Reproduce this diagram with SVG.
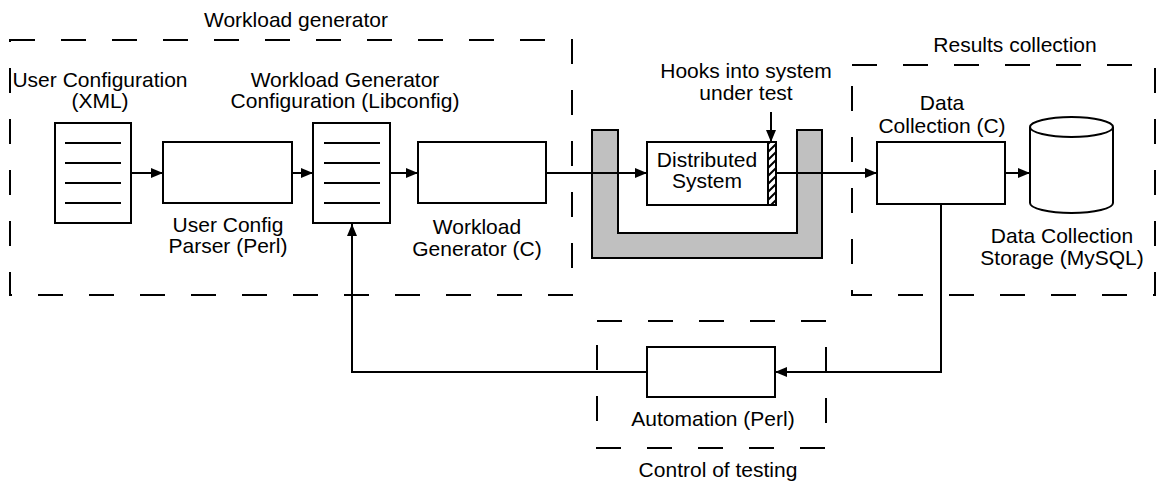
<svg xmlns="http://www.w3.org/2000/svg" width="1159" height="482" viewBox="0 0 1159 482">
  <style>
    .lbl { font-family: "Liberation Sans", Arial, sans-serif; font-size: 21px; fill: #000; text-anchor: middle; }
    .box { fill: #fff; stroke: #000; stroke-width: 2; }
    .rule { stroke: #000; stroke-width: 2; }
    .zone { fill: none; stroke: #000; stroke-width: 2; stroke-dasharray: 25 26; }
    .wire { fill: none; stroke: #000; stroke-width: 2; }
    .arrow { marker-end: url(#head); }
  </style>
  <defs>
    <marker id="head" markerUnits="userSpaceOnUse" markerWidth="13" markerHeight="11" refX="12" refY="5" orient="auto">
      <path d="M0,0 L12,5 L0,10 z" fill="#000"/>
    </marker>
    <pattern id="hatch" patternUnits="userSpaceOnUse" width="8" height="8">
      <path d="M-2,2 L2,-2 M0,8 L8,0 M6,10 L10,6" stroke="#000" stroke-width="2"/>
    </pattern>
  </defs>

  <rect width="1159" height="482" fill="#fff"/>

  <!-- dashed zones -->
  <g id="zones">
    <rect class="zone" x="10" y="40" width="562" height="255"/>
    <rect class="zone" x="852" y="65" width="303" height="230"/>
    <rect class="zone" x="597" y="321" width="229" height="127"/>
    <text class="lbl" x="296" y="27">Workload generator</text>
    <text class="lbl" x="1015" y="52">Results collection</text>
    <text class="lbl" x="718" y="477">Control of testing</text>
  </g>

  <!-- test harness around the system -->
  <g id="harness">
    <path d="M592,130 H618 V233 H797 V130 H822 V258 H592 Z" fill="#c0c0c0" stroke="#000" stroke-width="2"/>
  </g>

  <g id="user-config">
    <rect class="box" x="55" y="123" width="76" height="100"/>
    <path class="rule" d="M65,143 H121 M65,163 H121 M65,183 H121 M65,203 H121"/>
    <text class="lbl" x="100" y="87">User Configuration</text>
    <text class="lbl" x="100" y="108">(XML)</text>
  </g>

  <g id="config-parser">
    <rect class="box" x="163" y="142" width="129" height="61"/>
    <text class="lbl" x="228" y="232">User Config</text>
    <text class="lbl" x="228" y="253">Parser (Perl)</text>
  </g>

  <g id="generator-config">
    <rect class="box" x="313" y="123" width="77" height="100"/>
    <path class="rule" d="M324,143 H380 M324,163 H380 M324,183 H380 M324,203 H380"/>
    <text class="lbl" x="345" y="87">Workload Generator</text>
    <text class="lbl" x="345" y="108">Configuration (Libconfig)</text>
  </g>

  <g id="workload-generator">
    <rect class="box" x="418" y="142" width="128" height="61"/>
    <text class="lbl" x="477" y="234">Workload</text>
    <text class="lbl" x="477" y="256">Generator (C)</text>
  </g>

  <g id="distributed-system">
    <rect class="box" x="647" y="142" width="129" height="63"/>
    <rect x="768" y="142" width="8" height="63" fill="url(#hatch)" stroke="#000" stroke-width="2"/>
    <text class="lbl" x="707" y="167">Distributed</text>
    <text class="lbl" x="707" y="188">System</text>
    <text class="lbl" x="746" y="78">Hooks into system</text>
    <text class="lbl" x="746" y="100">under test</text>
  </g>

  <g id="data-collection">
    <rect class="box" x="877" y="142" width="128" height="62"/>
    <text class="lbl" x="942" y="110">Data</text>
    <text class="lbl" x="942" y="133">Collection (C)</text>
  </g>

  <g id="storage">
    <path d="M1030,127 V203 A41.5,10 0 0 0 1113,203 V127" class="box"/>
    <ellipse cx="1071.5" cy="127" rx="41.5" ry="10" class="box"/>
    <text class="lbl" x="1062" y="243">Data Collection</text>
    <text class="lbl" x="1062" y="265">Storage (MySQL)</text>
  </g>

  <g id="automation">
    <rect class="box" x="647" y="347" width="128" height="50"/>
    <text class="lbl" x="713" y="426">Automation (Perl)</text>
  </g>

  <!-- connectors -->
  <g id="connectors">
    <path class="wire arrow" d="M131,173 H163"/>
    <path class="wire arrow" d="M292,173 H313"/>
    <path class="wire arrow" d="M390,173 H418"/>
    <path class="wire arrow" d="M546,173 H647"/>
    <path class="wire arrow" d="M776,173 H877"/>
    <path class="wire arrow" d="M1005,173 H1030"/>
    <path class="wire arrow" d="M771,112 V142"/>
    <path class="wire arrow" d="M941,204 V372 H775"/>
    <path class="wire arrow" d="M647,372 H352 V224"/>
  </g>
</svg>
